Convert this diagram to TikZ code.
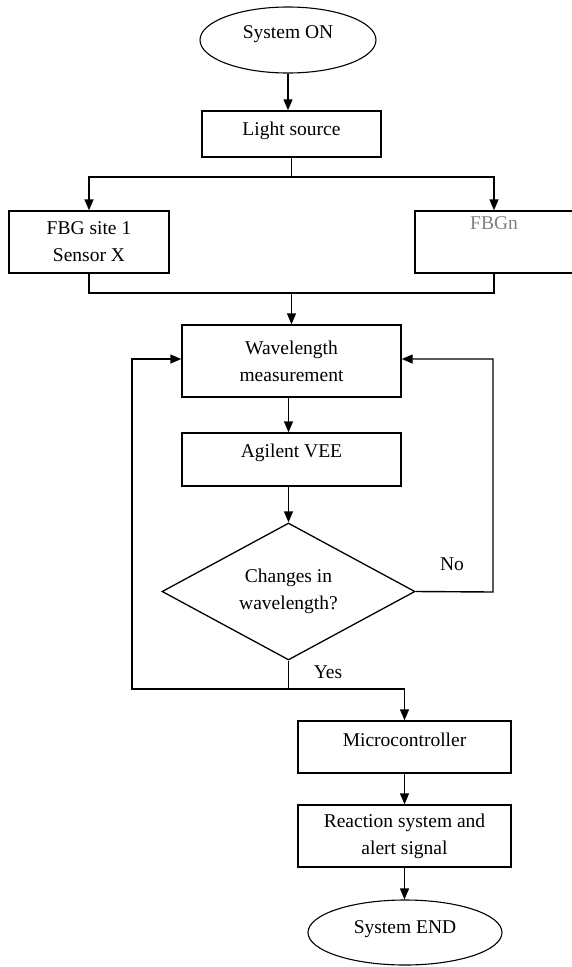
\documentclass[tikz,border=0pt]{standalone}
\usepackage{fontspec}
\setmainfont{Liberation Serif}
\usetikzlibrary{arrows.meta,shapes.geometric}
\definecolor{fadedtext}{RGB}{128,128,128}
\begin{document}
\begin{tikzpicture}[x=1pt,y=-1pt,
  every node/.style={font=\fontsize{19.5}{27}\selectfont},
  line/.style={line width=1.4pt, draw=black},
  flow/.style={line, -{Triangle[length=11pt,width=9pt]}},
  stepbox/.style={rectangle, draw, line width=1.4pt, inner sep=0pt, align=center},
  terminal/.style={ellipse, draw, line width=1.1pt, inner sep=0pt},
  decision/.style={diamond, draw, line width=1.3pt, inner sep=0pt, shape aspect=1.85, align=center},
  lbl/.style={inner sep=0pt}]
\useasboundingbox (0,0) rectangle (572,967);
\begin{scope}
\clip (0,0) rectangle (572,967);

% terminals
\node[terminal, minimum width=176pt, minimum height=66pt, text height=11pt, text depth=14pt] (start) at (288,40) {System ON};
\node[terminal, minimum width=194pt, minimum height=65pt, text height=13pt, text depth=11pt] (end) at (405,932.5) {System END};

% process steps
\node[stepbox, minimum width=179pt, minimum height=46pt, text height=13pt, text depth=10pt] (light) at (291.5,134) {Light source};
\node[stepbox, minimum width=160pt, minimum height=62pt] (fbg1) at (89,242) {FBG site 1\\Sensor X};
\node[stepbox, minimum width=158pt, minimum height=62pt, text height=6pt, text depth=31pt, text=fadedtext] (fbgn) at (494,242) {FBGn};
\node[stepbox, minimum width=219pt, minimum height=72pt] (wave) at (291.5,361) {Wavelength\\measurement};
\node[stepbox, minimum width=219pt, minimum height=53pt, text height=10pt, text depth=14pt] (agilent) at (291.5,459.5) {Agilent VEE};
\node[decision, minimum width=253pt, minimum height=137pt] (dec) at (288.5,591.5) {Changes in\\wavelength?};
\node[stepbox, minimum width=213pt, minimum height=52pt, text height=12pt, text depth=13pt] (micro) at (404.5,747) {Microcontroller};
\node[stepbox, minimum width=213pt, minimum height=62pt] (react) at (404.5,836) {Reaction system and\\alert signal};

% branch labels
\node[lbl] (nolbl) at (452,564) {No};
\node[lbl] (yeslbl) at (328,672) {Yes};

% junctions
\coordinate (split) at (291.5,177);
\coordinate (merge) at (291.5,293);
\coordinate (yesjoin) at (288.5,689);
\coordinate (loopL) at (132,689);
\coordinate (noR) at (493,592);

% connectors
\draw[flow] (start.south) -- (start.south |- light.north);
\draw[line] (light.south) -- (split);
\draw[flow] (split) -| (fbg1.north);
\draw[flow] (split) -| (fbgn.north);
\draw[line] (fbg1.south) |- (merge) -| (fbgn.south);
\draw[flow] (merge) -- (wave.north);
\draw[flow] (dec.north |- wave.south) -- (dec.north |- agilent.north);
\draw[flow] (dec.north |- agilent.south) -- (dec.north);
\draw[flow] (dec.east) -- (noR) |- ([yshift=2pt]wave.east);
\draw[line] (dec.south) -- (yesjoin);
\draw[flow] (yesjoin) -- (loopL) |- ([yshift=2pt]wave.west);
\draw[flow] (yesjoin) -| (micro.north);
\draw[flow] (micro) -- (react);
\draw[flow] (react.south) -- (react.south |- end.north);
\end{scope}
\end{tikzpicture}
\end{document}
